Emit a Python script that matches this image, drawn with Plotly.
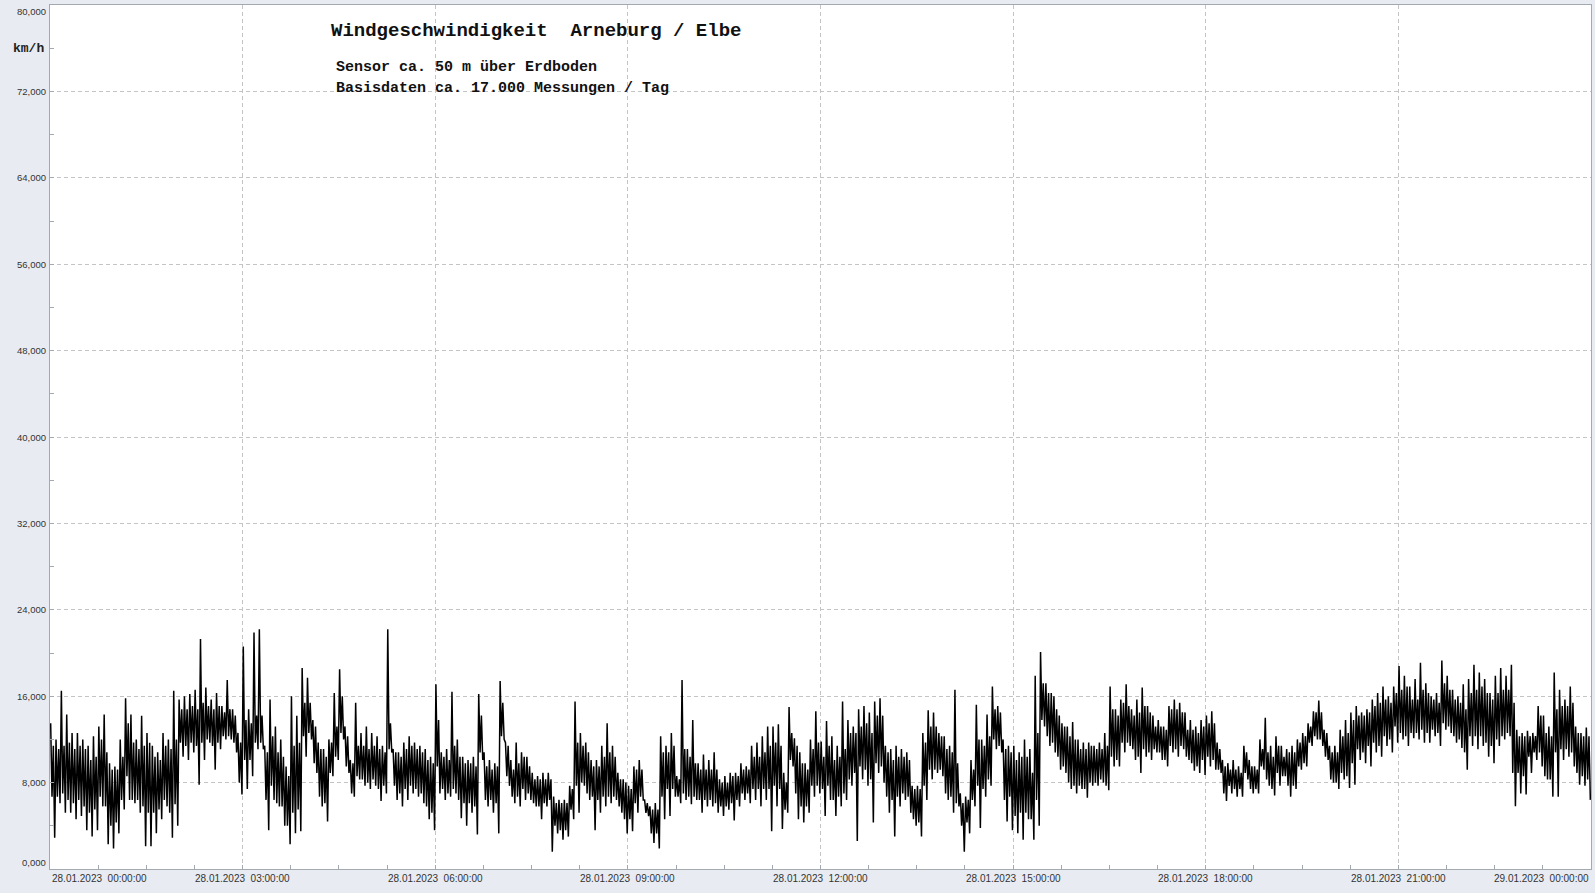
import pandas as pd
import plotly.graph_objects as go

# ---- data (km/h), read per 5-minute step; one list per 3-hour block
# hi_/lo_: extreme peak / trough in the step, ch_/cl_: upper / lower edge of the dense core band
hi_00 = [13.5,12.0,16.5,14.3,12.6,12.6,12.0,11.4,12.3,13.2,14.3,9.8,9.5,12.0,15.8,14.3,12.0,14.2,12.6,11.4,
         10.8,12.6,12.0,16.5,15.7,16.0,16.2,16.6,21.3,16.8,15.7,16.3,15.1,17.5,14.8,12.6]
lo_00 = [2.9,6.1,5.2,5.2,4.6,4.9,3.6,3.0,3.6,5.8,2.3,1.9,3.3,5.5,6.4,6.1,5.2,2.1,2.1,3.3,
         4.6,5.8,2.9,4.0,10.4,10.1,10.8,7.8,10.1,11.7,9.2,11.1,12.0,12.0,10.8,6.9]
ch_00 = [11.4,11.1,11.4,11.7,11.1,11.4,11.1,10.1,10.4,12.0,10.8,9.2,9.2,10.4,13.5,11.7,11.1,11.4,11.7,10.4,
         10.1,11.4,11.1,12.0,14.8,14.8,15.1,14.8,15.4,15.1,14.8,15.1,14.5,14.8,14.2,11.7]
cl_00 = [6.7,6.7,7.0,6.4,6.1,6.4,5.8,5.2,5.5,6.7,5.8,4.0,4.3,6.4,8.6,6.4,6.4,5.8,5.2,5.2,
         5.5,6.4,5.2,6.0,11.7,11.4,11.7,11.4,11.7,12.0,11.4,11.7,12.3,12.3,11.7,8.0]

hi_03 = [20.6,14.8,21.9,22.2,11.4,15.7,13.2,12.0,9.5,16.0,14.2,18.6,17.7,13.8,11.7,11.1,12.0,16.3,18.5,13.2,
         10.1,15.4,12.6,13.2,12.6,12.3,11.4,22.2,11.1,10.8,11.7,12.3,11.7,11.4,11.1,10.4]
lo_03 = [7.4,8.6,11.1,11.1,3.6,6.4,5.8,4.0,2.3,3.3,3.5,10.4,12.0,8.9,5.8,4.4,8.6,10.1,12.0,8.9,
         6.7,8.3,7.7,7.4,7.7,6.3,7.0,10.8,6.4,5.8,6.4,7.0,6.7,6.1,4.6,3.6]
ch_03 = [13.8,13.5,14.2,14.2,10.8,12.3,10.8,10.4,8.6,11.4,11.7,15.4,15.4,13.2,11.1,10.4,11.7,13.2,16.0,12.3,
         9.8,11.4,11.4,11.1,11.4,11.1,10.8,13.5,10.8,10.4,11.1,11.4,11.1,10.8,10.1,9.8]
cl_03 = [10.1,10.1,11.7,11.7,6.4,7.7,6.1,5.8,4.0,5.2,5.5,12.3,12.6,9.8,6.7,6.1,8.9,10.4,12.6,9.5,
         7.0,8.6,8.3,8.0,8.3,7.4,7.7,11.1,7.7,7.0,7.4,7.7,7.4,7.0,5.8,5.2]

hi_06 = [17.1,10.8,11.1,16.4,12.0,10.4,10.1,10.4,16.2,10.8,10.1,9.8,17.4,11.7,10.1,11.7,10.8,10.4,8.9,8.6,
         8.9,8.9,6.7,6.4,6.4,7.7,15.5,12.6,11.7,10.1,10.1,11.4,13.5,11.4,8.9,8.3]
lo_06 = [7.0,6.4,6.7,7.0,4.7,4.0,5.2,3.2,10.1,5.8,5.2,3.3,12.0,7.7,6.1,5.8,6.4,6.4,5.8,4.6,
         5.8,1.6,3.3,2.7,3.0,4.6,5.2,7.7,6.4,3.6,5.2,5.8,6.1,6.4,5.2,3.3]
ch_06 = [13.8,10.4,10.1,11.4,10.4,9.8,9.8,9.5,14.2,9.5,9.2,9.5,15.4,11.4,9.2,9.8,10.4,9.5,8.3,8.3,
         8.3,8.3,6.1,6.1,6.1,7.4,11.7,11.4,10.8,9.5,9.5,10.4,10.8,10.4,8.3,8.0]
cl_06 = [9.5,7.4,7.0,7.4,6.4,6.1,6.1,5.8,10.8,6.4,6.4,6.1,12.3,8.6,6.7,6.7,7.4,7.0,6.1,5.8,
         6.1,6.4,4.0,3.6,3.6,5.5,7.7,8.0,7.0,6.7,6.4,6.7,6.7,6.7,5.8,4.6]

hi_09 = [7.7,9.5,10.1,6.4,5.8,6.1,12.3,11.4,12.6,8.6,17.5,11.1,13.8,9.8,10.6,10.1,10.8,8.3,8.6,8.9,
         8.9,9.8,9.5,11.4,11.7,12.3,13.2,13.2,13.4,8.9,15.0,12.1,10.8,9.8,12.0,14.6]
lo_09 = [3.5,5.2,6.4,4.9,2.4,1.9,4.6,4.9,6.7,6.1,6.4,6.0,6.4,5.2,5.8,5.8,5.2,4.9,5.5,4.5,
         5.8,6.4,6.1,6.4,5.8,6.4,3.5,5.8,3.7,5.2,9.5,4.6,4.3,5.2,6.7,7.0]
ch_09 = [7.4,9.2,9.2,6.1,5.5,5.5,10.8,10.8,11.4,8.3,11.1,10.4,9.8,9.2,9.2,9.2,9.2,8.0,8.0,8.6,
         8.6,9.2,9.2,10.4,10.4,10.8,11.4,11.7,11.4,8.0,12.6,11.4,9.8,9.2,11.1,11.7]
cl_09 = [4.6,6.1,6.7,5.2,3.3,3.3,6.7,7.4,7.4,6.7,7.0,6.7,6.7,6.4,6.4,6.4,6.1,5.8,5.8,6.1,
         6.4,7.0,7.0,7.4,7.4,7.4,7.4,7.7,7.4,5.5,10.1,7.0,5.8,5.8,7.7,7.7]

hi_12 = [11.8,13.7,12.3,11.4,15.5,13.8,13.2,14.8,15.1,14.5,15.5,15.8,11.4,11.1,11.4,11.1,10.8,7.7,7.7,12.6,
         14.7,14.5,12.6,12.3,11.4,16.6,7.0,6.7,10.1,15.2,12.0,14.3,16.9,15.1,12.0,11.4]
lo_12 = [4.9,6.4,4.9,5.8,6.4,7.7,2.6,8.3,7.7,4.3,8.9,8.0,5.2,3.0,5.8,6.4,5.2,4.0,3.0,6.4,
         8.3,8.9,8.6,6.4,5.2,5.8,1.6,3.3,5.8,3.8,6.7,7.7,11.1,10.8,4.4,3.6]
ch_12 = [10.4,11.4,10.1,10.4,11.1,12.6,12.6,13.2,13.5,12.6,14.2,14.2,10.8,10.1,10.4,10.4,10.1,7.4,7.4,11.7,
         13.2,13.2,12.3,11.1,10.8,9.8,6.1,6.4,9.2,12.0,11.4,12.3,14.8,14.5,11.1,10.8]
cl_12 = [7.4,7.7,6.4,6.7,7.0,8.3,8.9,9.5,9.2,8.3,9.8,9.5,6.7,6.4,6.7,7.0,6.7,4.6,4.3,7.7,
         9.2,9.2,9.2,7.0,6.7,6.1,4.0,4.3,6.4,7.7,7.4,8.3,12.0,11.4,6.4,6.7]

hi_15 = [11.4,10.8,12.0,11.1,17.9,20.1,17.2,16.3,14.8,13.5,13.2,13.6,12.0,11.7,11.7,11.4,11.7,12.6,16.9,14.8,
         15.7,17.1,14.8,15.7,16.8,15.1,14.2,13.8,13.2,15.1,15.7,15.4,14.5,13.8,13.2,13.8]
lo_15 = [3.3,2.7,4.6,2.7,4.0,13.2,11.4,10.8,9.2,8.9,7.4,7.0,7.4,6.6,7.7,7.7,8.0,7.3,9.5,9.5,
         10.8,11.4,10.1,8.9,10.4,10.1,10.8,10.1,9.5,10.8,10.4,11.1,10.1,9.1,8.9,8.7]
ch_15 = [10.1,10.4,10.4,8.9,12.6,17.2,16.3,16.0,14.2,13.2,12.3,12.0,11.1,11.1,11.4,11.1,11.1,11.4,14.8,14.2,
         15.4,15.1,14.2,14.5,15.1,14.5,13.2,13.2,12.9,14.8,14.8,14.5,12.9,12.9,12.6,13.2]
cl_15 = [4.9,5.2,5.2,4.6,6.4,13.8,12.3,11.7,10.4,9.5,8.0,7.7,7.7,7.4,8.0,8.0,8.3,7.7,10.4,10.1,
         11.7,11.7,11.1,10.4,11.1,10.8,11.1,10.8,10.1,11.4,11.1,11.4,10.4,9.8,9.5,10.1]

hi_18 = [14.2,14.6,11.7,10.1,9.8,10.1,9.5,11.4,10.1,9.5,12.0,14.0,11.4,12.3,11.4,11.1,11.4,12.0,12.6,13.5,
         14.6,15.6,12.9,11.4,11.4,12.9,13.8,14.5,15.1,14.5,14.8,15.7,16.3,16.9,16.0,16.9]
lo_18 = [9.5,9.2,8.9,6.3,7.0,6.7,6.7,8.3,7.0,7.0,9.2,7.7,6.8,7.7,8.6,6.7,7.4,9.2,9.5,11.4,
         12.0,11.4,10.1,8.0,7.4,8.3,7.5,7.8,10.1,9.8,9.5,10.8,10.4,11.4,10.8,11.7]
ch_18 = [13.5,13.5,11.1,9.5,9.2,9.2,8.9,10.8,9.5,9.2,11.1,10.8,10.4,11.4,10.4,10.8,10.8,11.7,12.3,13.2,
         14.5,14.5,12.6,10.8,10.8,12.3,12.6,13.8,14.2,14.2,14.5,15.1,15.4,15.7,15.4,16.3]
cl_18 = [10.4,10.1,9.2,7.0,7.7,7.4,7.4,8.9,7.4,7.4,9.5,8.3,7.4,8.9,8.6,7.7,7.7,9.5,9.8,11.7,
         12.3,12.0,10.4,8.3,8.0,8.9,8.6,9.8,11.1,10.8,11.4,11.7,11.4,12.3,12.0,13.2]

hi_21 = [18.8,17.9,16.9,17.6,19.1,17.2,16.0,16.3,19.3,17.9,16.6,16.0,17.1,17.6,18.9,18.2,17.6,16.3,17.9,18.6,
         17.9,18.9,12.9,12.6,12.8,12.6,15.1,14.2,13.2,18.2,16.6,15.7,16.9,13.2,12.6,13.1]
lo_21 = [12.0,11.4,12.1,12.0,11.7,11.7,12.3,11.4,12.9,12.6,11.7,11.2,9.2,11.4,11.1,11.4,10.4,9.8,11.4,12.0,
         12.3,5.8,7.0,6.9,8.9,10.1,9.5,8.3,6.7,6.7,10.1,10.4,9.5,7.8,7.7,6.4]
ch_21 = [16.6,16.9,15.7,15.7,16.6,16.3,15.7,15.4,17.2,16.6,15.7,15.4,14.8,16.3,16.6,16.9,16.3,15.7,16.3,16.6,
         16.6,15.4,12.3,12.3,12.3,12.3,14.2,12.6,12.3,14.8,15.1,15.1,15.4,12.6,12.3,12.3]
cl_21 = [12.6,12.3,12.6,12.6,12.9,12.6,12.9,12.6,13.5,13.2,12.3,12.0,10.8,12.3,12.3,12.3,11.7,11.4,12.0,12.3,
         12.6,8.9,8.9,8.6,10.4,10.8,10.8,8.6,8.3,10.8,11.1,11.1,10.8,8.9,8.6,8.3]

y_tick_values = [0, 8, 16, 24, 32, 40, 48, 56, 64, 72, 80]
x_tick_times = pd.date_range("2023-01-28 00:00:00", periods=9, freq="3h")
x_tick_labels = [t.strftime("%d.%m.%Y  %H:%M:%S") for t in x_tick_times]

title_text = "Windgeschwindigkeit  Arneburg / Elbe"
sub1_text = "Sensor ca. 50 m über Erdboden"
sub2_text = "Basisdaten ca. 17.000 Messungen / Tag"
unit_text = "km/h"

# ---- build the series
blocks = [(hi_00, cl_00, ch_00, lo_00), (hi_03, cl_03, ch_03, lo_03),
          (hi_06, cl_06, ch_06, lo_06), (hi_09, cl_09, ch_09, lo_09),
          (hi_12, cl_12, ch_12, lo_12), (hi_15, cl_15, ch_15, lo_15),
          (hi_18, cl_18, ch_18, lo_18), (hi_21, cl_21, ch_21, lo_21)]
start = pd.Timestamp("2023-01-28 00:00:00")
times, vals = [], []
for c, block in enumerate(blocks):
    for k, quad in enumerate(zip(*block)):
        t0 = start + pd.Timedelta(hours=3 * c) + pd.Timedelta(minutes=5 * k)
        for j, v in enumerate(quad):
            times.append(t0 + pd.Timedelta(seconds=37.5 + 75 * j))
            vals.append(v)

W, H = 1595, 893
ML, MR, MT, MB = 50, 4, 5, 24
PW, PH = W - ML - MR, H - MT - MB

def px(x):
    return (x - ML) / PW

def py(y):
    return 1 - (y - MT) / PH

fig = go.Figure()
fig.add_trace(go.Scatter(x=times, y=vals, mode="lines",
                         line=dict(color="#000000", width=1.5), hoverinfo="skip",
                         showlegend=False))

grid = "#c4c4c4"
axcol = "#a3a9b1"
fig.update_xaxes(range=[x_tick_times[0], x_tick_times[-1]], type="date",
                 tickmode="linear", tick0=x_tick_times[0], dtick=3 * 3600 * 1000,
                 showticklabels=False, ticks="inside", ticklen=4, tickcolor=axcol,
                 showgrid=True, gridcolor=grid, griddash="4px,3px", gridwidth=1,
                 minor=dict(dtick=45 * 60 * 1000, tick0=x_tick_times[0], ticks="inside",
                            ticklen=4, tickcolor=axcol, showgrid=False),
                 showline=True, linecolor=axcol, linewidth=1, mirror=True, zeroline=False)
fig.update_yaxes(range=[0, 80], tickmode="array", tickvals=y_tick_values,
                 showticklabels=False, ticks="inside", ticklen=4, tickcolor=axcol,
                 showgrid=True, gridcolor=grid, griddash="4px,3px", gridwidth=1,
                 minor=dict(dtick=4, ticks="inside", ticklen=4, tickcolor=axcol, showgrid=False),
                 showline=True, linecolor=axcol, linewidth=1, mirror=True, zeroline=False)

ann = []
tickfont = dict(family="Liberation Sans, Arial, sans-serif", size=9.5, color="#333333")
for v in y_tick_values:
    shift = 0
    if v == y_tick_values[-1]:
        shift = -6
    elif v == y_tick_values[0]:
        shift = 7
    ann.append(dict(x=0, xref="paper", y=v, yref="y", text=f"{v:.3f}".replace(".", ","),
                    xanchor="right", yanchor="middle", xshift=-2, yshift=shift,
                    showarrow=False, font=tickfont))
xfont = dict(family="Liberation Sans, Arial, sans-serif", size=10, color="#333333")
for i, (t, lab) in enumerate(zip(x_tick_times, x_tick_labels)):
    anchor = "center"
    if i == 0:
        anchor = "left"
    elif i == len(x_tick_times) - 1:
        anchor = "right"
    ann.append(dict(x=t, xref="x", y=0, yref="paper", text=lab, xanchor=anchor,
                    yanchor="top", yshift=-2, showarrow=False, font=xfont))

ann.append(dict(x=0, xref="paper", y=76, yref="y", text=f"<b>{unit_text}</b>",
                xanchor="right", yanchor="middle", xshift=-4, showarrow=False,
                font=dict(family="Liberation Mono, Courier New, monospace", size=13, color="#222222")))
ann.append(dict(x=px(329), xref="paper", y=py(31), yref="paper", text=f"<b>{title_text}</b>",
                xanchor="left", yanchor="middle", showarrow=False,
                font=dict(family="Liberation Mono, Courier New, monospace", size=19, color="#111111")))
ann.append(dict(x=px(334), xref="paper", y=py(68), yref="paper", text=f"<b>{sub1_text}</b>",
                xanchor="left", yanchor="middle", showarrow=False,
                font=dict(family="Liberation Mono, Courier New, monospace", size=15, color="#111111")))
ann.append(dict(x=px(334), xref="paper", y=py(89), yref="paper", text=f"<b>{sub2_text}</b>",
                xanchor="left", yanchor="middle", showarrow=False,
                font=dict(family="Liberation Mono, Courier New, monospace", size=15, color="#111111")))

fig.update_layout(
    width=W, height=H, autosize=False,
    margin=dict(l=ML, r=MR, t=MT, b=MB, pad=0),
    paper_bgcolor="#e8ecf2", plot_bgcolor="#ffffff",
    annotations=ann,
    shapes=[dict(type="rect", xref="paper", yref="paper", x0=px(320), x1=px(753),
                 y0=py(103), y1=py(13), fillcolor="#ffffff", line=dict(width=0), layer="between")],
    showlegend=False,
)

fig.write_html("out.html", config={"displayModeBar": False, "staticPlot": True},
               post_script="document.body.style.margin='0';document.body.style.overflow='hidden';")
